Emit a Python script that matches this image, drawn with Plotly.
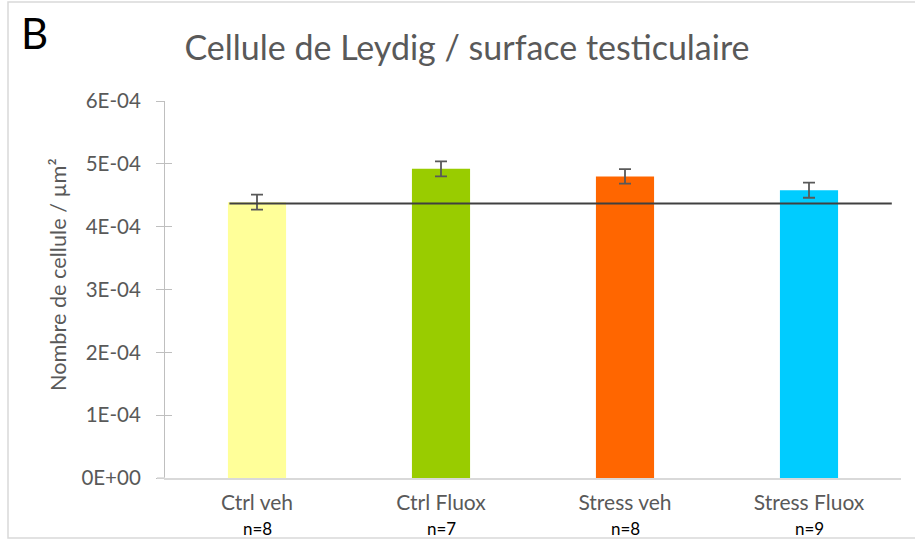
import plotly.graph_objects as go

categories = ["Ctrl veh", "Ctrl Fluox", "Stress veh", "Stress Fluox"]
n_labels = ["n=8", "n=7", "n=8", "n=9"]
means = [4.39e-4, 4.92e-4, 4.80e-4, 4.58e-4]
errors = [1.2e-5, 1.2e-5, 1.15e-5, 1.2e-5]
colors = ["#FFFF99", "#99CC00", "#FF6600", "#00CCFF"]
reference_level = 4.37e-4
y_tickvals = [0, 1e-4, 2e-4, 3e-4, 4e-4, 5e-4, 6e-4]
y_ticktext = ["0E+00", "1E-04", "2E-04", "3E-04", "4E-04", "5E-04", "6E-04"]

FONT = "Lato"
GRAY = "#595959"

x_idx = list(range(len(categories)))

fig = go.Figure()
fig.add_trace(go.Bar(
    x=x_idx, y=means, width=0.316,
    marker=dict(color=colors, line=dict(width=0)),
    error_y=dict(type="data", array=errors, visible=True, color=GRAY, thickness=1.8, width=6),
    showlegend=False,
))
# invisible trace to activate the overlay axis that carries the inner half of the cross ticks
fig.add_trace(go.Scatter(x=[x_idx[0]], y=[means[0]], yaxis="y2", mode="markers",
                         marker=dict(opacity=0), showlegend=False, hoverinfo="skip"))

L, R, T, B = 165, 14, 101, 62
W, H = 915, 540
pw, ph = W - L - R, H - T - B

def px_x(p):
    return (p - L) / pw

def px_y(p):
    return (H - B - p) / ph

shapes = [
    dict(type="line", xref="x", yref="y", x0=-0.15, x1=3.45, y0=reference_level, y1=reference_level,
         line=dict(color="#404040", width=2)),
    dict(type="rect", xref="paper", yref="paper", x0=px_x(8), x1=px_x(925), y0=px_y(538), y1=px_y(2),
         line=dict(color="#D9D9D9", width=1.5), fillcolor="rgba(0,0,0,0)", layer="below"),
    dict(type="line", xref="paper", yref="paper", x0=px_x(157), x1=0, y0=0, y1=0,
         line=dict(color="#D9D9D9", width=1.5)),
]

annotations = [
    dict(text="Nombre de cellule / µm²", textangle=-90, xref="paper", yref="paper",
         x=px_x(58), y=px_y(275), xanchor="center", yanchor="middle", showarrow=False,
         font=dict(family=FONT, size=21.7, color=GRAY)),
    dict(text="B", xref="paper", yref="paper", x=px_x(34), y=px_y(33), xanchor="center",
         yanchor="middle", showarrow=False, font=dict(family=FONT, size=42, color="black")),
]
for i, n in zip(x_idx, n_labels):
    annotations.append(dict(text=n, xref="x", yref="paper", x=i, y=px_y(540), xanchor="center",
                            yanchor="bottom", showarrow=False, borderpad=0,
                            font=dict(family=FONT, size=17, color="black")))

tick_gray = "#BFBFBF"
fig.update_layout(
    width=W, height=H, autosize=False,
    margin=dict(l=L, r=R, t=T, b=B, pad=0, autoexpand=False),
    paper_bgcolor="white", plot_bgcolor="white",
    font=dict(family=FONT, color=GRAY, size=20),
    title=dict(text="Cellule de Leydig / surface testiculaire", x=467 / W, xanchor="center",
               y=1 - 48 / H, yanchor="middle", font=dict(family=FONT, size=34, color=GRAY)),
    xaxis=dict(range=[-0.5, 3.5], tickvals=x_idx, ticktext=categories, showgrid=False, zeroline=False,
               automargin=False,
               showline=True, linecolor="#D9D9D9", linewidth=1.5, ticks="", ticklabelstandoff=5,
               tickfont=dict(family=FONT, size=21, color=GRAY)),
    yaxis=dict(range=[0, 6e-4], tickvals=y_tickvals, ticktext=y_ticktext, showgrid=False, zeroline=False,
               automargin=False,
               showline=True, linecolor=tick_gray, linewidth=1.2, ticks="outside", ticklen=8,
               tickcolor=tick_gray, tickwidth=1.2, ticklabelstandoff=11,
               tickfont=dict(family=FONT, size=20.5, color=GRAY)),
    yaxis2=dict(range=[0, 6e-4], overlaying="y", side="left", tickvals=y_tickvals, showticklabels=False,
                automargin=False,
                showgrid=False, zeroline=False, showline=False, ticks="inside", ticklen=7,
                tickcolor=tick_gray, tickwidth=1.2),
    shapes=shapes,
    annotations=annotations,
)

fig.write_html("out.html", config={"responsive": False, "displayModeBar": False},
               post_script="document.body.style.margin='0';document.body.style.overflow='hidden';")
